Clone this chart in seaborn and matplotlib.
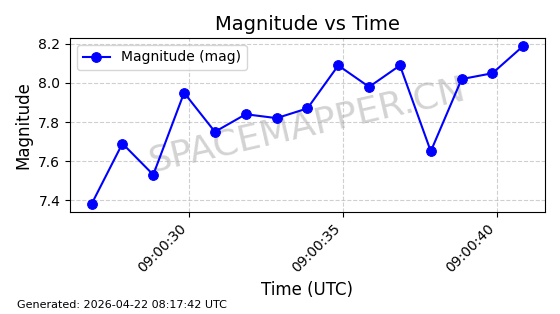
import matplotlib
matplotlib.use("Agg")
import matplotlib.pyplot as plt
import matplotlib.dates as mdates
import seaborn as sns
import pandas as pd

start_time = "2026-04-22 09:00:26.85"
offsets_s = [0, 1, 2, 3, 4, 5, 6, 7, 8, 9, 10, 11, 12, 13, 14]
magnitude = [7.38, 7.69, 7.53, 7.95, 7.75, 7.84, 7.82, 7.87, 8.09, 7.98, 8.09, 7.65, 8.02, 8.05, 8.19]
tick_labels = ["2026-04-22 09:00:30", "2026-04-22 09:00:35", "2026-04-22 09:00:40"]

times = pd.to_datetime(start_time) + pd.to_timedelta(offsets_s, unit="s")
df = pd.DataFrame({"time": times, "mag": magnitude})

fig, ax = plt.subplots(figsize=(5.6, 3.14), dpi=100)
sns.lineplot(data=df, x="time", y="mag", ax=ax, color="blue", marker="o",
             markersize=7, markeredgecolor="blue", linewidth=1.5,
             label="Magnitude (mag)", zorder=3)

ax.set_xticks(pd.to_datetime(tick_labels))
ax.xaxis.set_major_formatter(mdates.DateFormatter("%H:%M:%S"))
plt.setp(ax.get_xticklabels(), rotation=45, ha="right")

ax.set_title("Magnitude vs Time", fontsize=14)
ax.set_xlabel("Time (UTC)", fontsize=12)
ax.set_ylabel("Magnitude", fontsize=12)
ax.grid(True, linestyle="--", alpha=0.6)
ax.legend(loc="upper left")

ax.text(0.5, 0.5, "SPACEMAPPER.CN", transform=ax.transAxes, fontsize=26,
        color="gray", alpha=0.35, ha="center", va="center", rotation=13,
        zorder=1)

fig.text(0.03, 0.02, "Generated: 2026-04-22 08:17:42 UTC", fontsize=8)

fig.subplots_adjust(left=0.125, right=0.973, top=0.879, bottom=0.325)
fig.savefig("out.png", dpi=100)
